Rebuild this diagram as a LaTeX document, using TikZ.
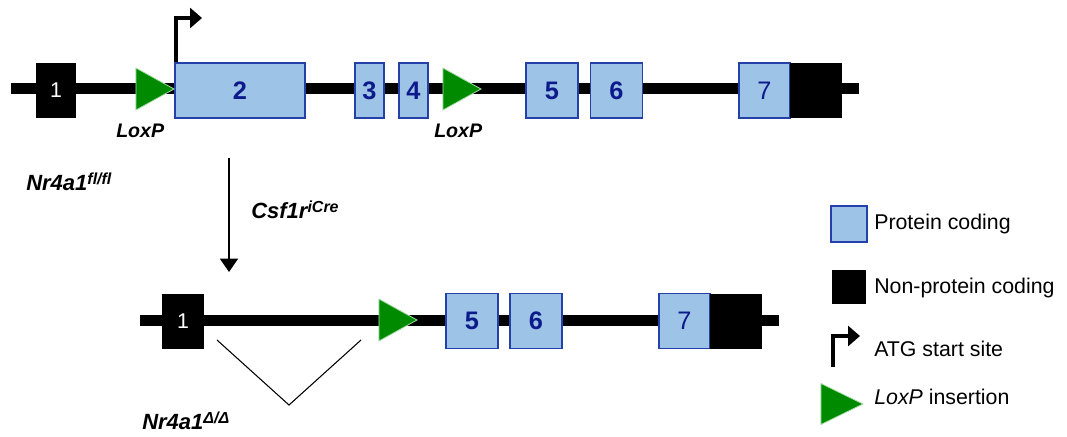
\documentclass[tikz,border=0pt]{standalone}
\usepackage{fontspec}
\setmainfont{Liberation Sans}
\usetikzlibrary{arrows.meta, positioning, shapes.geometric}
\definecolor{exonBlue}{HTML}{9DC3E6}
\definecolor{exonEdge}{HTML}{2341A8}
\definecolor{exonText}{HTML}{0D1A8C}
\definecolor{loxGreen}{HTML}{008A00}
\definecolor{loxEdge}{HTML}{A6DDA6}
\newcommand{\supr}[1]{\raisebox{4.5pt}{\fontsize{12}{12}\selectfont #1}}
\tikzset{
  backbone/.style={line width=8.25pt, black},
  exonP/.style={rectangle, draw=exonEdge, fill=exonBlue, line width=0.9pt,
                inner sep=0pt, minimum height=41.25pt, minimum width=#1*0.75pt,
                text=exonText, font=\fontsize{19}{19}\selectfont\bfseries},
  exonN/.style={rectangle, fill=black, inner sep=0pt, minimum height=41.25pt,
                minimum width=#1*0.75pt, text=white,
                font=\fontsize{16}{16}\selectfont},
  loxp/.style={isosceles triangle, isosceles triangle stretches,
               fill=loxGreen, draw=loxEdge, line width=0.6pt, inner sep=0pt,
               minimum width=31.5pt, minimum height=28.5pt, anchor=apex},
  arrowATG/.style={-{Triangle[length=9pt, width=15pt]}, line width=2.5pt},
  arrowCre/.style={-{Triangle[length=10pt, width=13.5pt]}, line width=1.1pt},
  lbl/.style={font=\fontsize{14.7}{14.7}\selectfont\bfseries\itshape,
              anchor=base west, inner sep=0pt},
  gene/.style={lbl, font=\fontsize{16.5}{16.5}\selectfont\bfseries\itshape},
  legtxt/.style={font=\fontsize{16}{16}\selectfont, anchor=base west,
                 inner sep=0pt},
}

\begin{document}
\begin{tikzpicture}[x=0.75pt, y=-0.75pt]
  \useasboundingbox (0,0) rectangle (1067,436);

  % floxed allele
  \coordinate (topL) at (11,88.5);
  \coordinate (topR) at (859,88.5);
  \draw[backbone] (topL) -- (topR);
  \node[exonN=40] (t1) at (56,90.5) {1};
  \node[exonP=130] (t2) at (240,90.5) {2};
  \node[exonP=29] (t3) at (369.5,90.5) {3};
  \node[exonP=29] (t4) at (413.5,90.5) {4};
  \node[exonP=52] (t5) at (552,90.5) {5};
  \node[exonP=52] (t6) at (616.5,90.5) {6};
  \node[exonP=51, font=\fontsize{19}{19}\selectfont] (t7) at (764.5,90.5) {7};
  \node[exonN=52] (tUtr) at (816,90.5) {};
  \node[loxp] (lox1) at (175,89) {};
  \node[loxp] (lox2) at (482,89) {};
  \node[lbl] (lox1txt) at (116,137) {LoxP};
  \node[lbl] (lox2txt) at (434,137) {LoxP};

  % start codon
  \coordinate (atgTip) at (202,18);
  \draw[arrowATG] ([xshift=1.25pt]t2.north west) |- (atgTip);

  % recombination
  \node[gene] (flfl) at (26,190) {Nr4a1\supr{fl/fl}};
  \coordinate (creTop) at (229,158);
  \coordinate (creEnd) at (229,272);
  \draw[arrowCre] (creTop) -- (creEnd);
  \node[gene] (cre) at (251,218) {Csf1r\supr{iCre}};

  % deleted allele
  \coordinate (botL) at (140,320);
  \coordinate (botR) at (779,320);
  \draw[backbone] (botL) -- (botR);
  \node[exonN=42] (b1) at (183,321) {1};
  \node[exonP=52] (b5) at (472,321) {5};
  \node[exonP=52] (b6) at (536,321) {6};
  \node[exonP=51, font=\fontsize{19}{19}\selectfont] (b7) at (684.5,321) {7};
  \node[exonN=52] (bUtr) at (736,321) {};
  \node[loxp] (lox3) at (418,320) {};
  \coordinate (delL) at (217,340);
  \coordinate (delV) at (289,405);
  \coordinate (delR) at (361,340);
  \draw[line width=0.8pt] (delL) -- (delV) -- (delR);
  \node[gene] (dd) at (142,429) {Nr4a1\supr{Δ/Δ}};

  % legend
  \node[exonP=36, minimum height=27pt] (legP) at (849,224) {};
  \node[legtxt] (legPtxt) at (874,229) {Protein coding};
  \node[exonN=34, minimum height=25.5pt] (legN) at (849,287) {};
  \node[legtxt] (legNtxt) at (874,293) {Non-protein coding};
  \coordinate (legAtgBot) at (833,367);
  \coordinate (legAtgTip) at (860,336);
  \draw[arrowATG] (legAtgBot) |- (legAtgTip);
  \node[legtxt] (legAtgtxt) at (874,356) {ATG start site};
  \node[loxp, minimum width=30.75pt, minimum height=31.5pt] (legLox) at (864,404) {};
  \node[legtxt] (legLoxtxt) at (874,404) {\textit{LoxP} insertion};
\end{tikzpicture}
\end{document}
